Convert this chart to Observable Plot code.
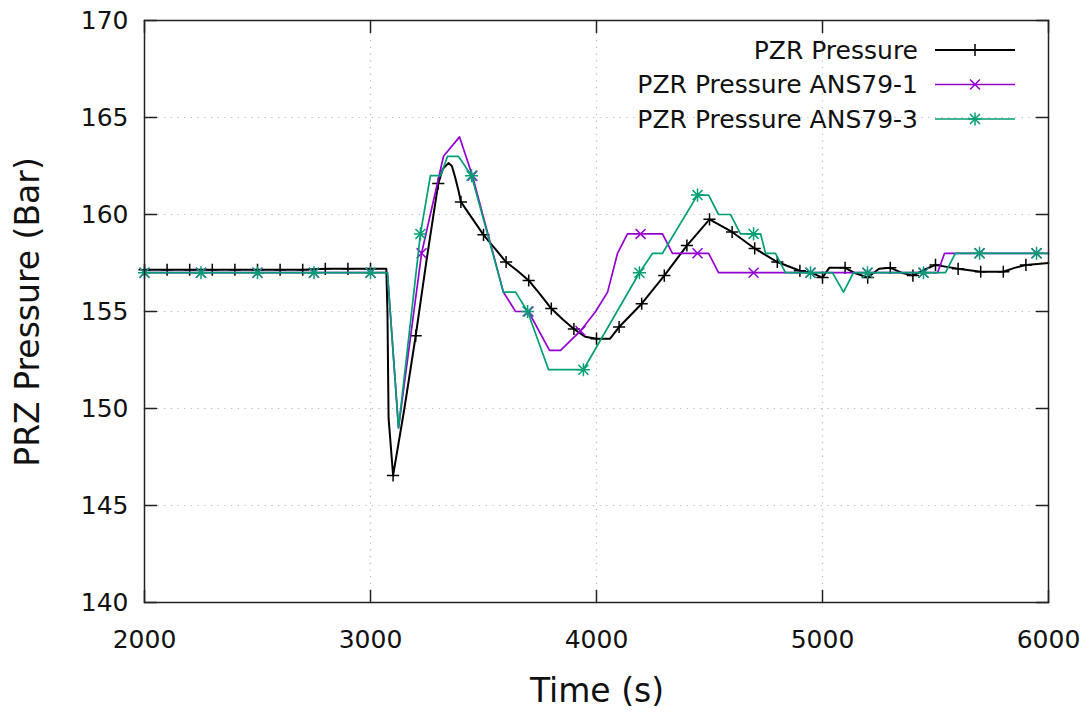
<!DOCTYPE html>
<html>
<head>
<meta charset="utf-8">
<script src="https://cdn.jsdelivr.net/npm/d3@7"></script>
<script src="https://cdn.jsdelivr.net/npm/@observablehq/plot@0.6"></script>
<style>
  html, body { margin: 0; padding: 0; background: #fff; }
  #chart { width: 1092px; height: 715px; }
</style>
</head>
<body>
<div id="chart"></div>
<script>
// ---- Data ----
const seriesNames = ["PZR Pressure", "PZR Pressure ANS79-1", "PZR Pressure ANS79-3"];

// PZR Pressure (black)
const pzrTime = [2000,2100,2200,2300,2400,2500,2600,2700,2800,2900,3000,3070,3075,3080,3100,3150,3200,3250,3300,3320,3345,3360,3375,3390,3400,3450,3500,3550,3600,3650,3700,3750,3800,3850,3900,3950,4000,4060,4100,4200,4300,4400,4500,4600,4700,4800,4900,4950,5000,5030,5100,5140,5200,5250,5300,5350,5400,5450,5500,5550,5600,5700,5800,5850,5900,6000];
const pzrValue = [157.15,157.15,157.15,157.15,157.15,157.15,157.15,157.15,157.2,157.2,157.2,157.2,155.0,149.5,146.55,150.0,153.75,157.8,161.6,162.35,162.65,162.5,161.9,161.2,160.65,159.8,158.95,158.25,157.55,157.1,156.6,155.9,155.15,154.6,154.1,153.7,153.6,153.6,154.2,155.4,156.85,158.4,159.75,159.1,158.25,157.55,157.1,157.0,156.75,157.25,157.25,157.0,156.75,157.2,157.25,157.0,156.85,157.15,157.4,157.3,157.2,157.05,157.05,157.25,157.4,157.5];
const pzrMarkerTimes = [2000,2100,2200,2300,2400,2500,2600,2700,2800,2900,3000,3100,3200,3300,3400,3500,3600,3700,3800,3900,4000,4100,4200,4300,4400,4500,4600,4700,4800,4900,5000,5100,5200,5300,5400,5500,5600,5700,5800,5900];

// PZR Pressure ANS79-1 (purple)
const ans1Time = [2000,2250,2500,2750,3000,3075,3124,3226,3323,3394,3451,3588,3642,3699,3792,3841,3929,3996,4049,4093,4137,4195,4292,4336,4447,4496,4540,4695,4947,5199,5447,5509,5540,5695,5947,6000];
const ans1Value = [157,157,157,157,157,157,149,158,163,164,162,156,155,155,153,153,154,155,156,158,159,159,159,158,158,158,157,157,157,157,157,157,158,158,158,158];
const ans1MarkerTimes = [2000,2250,2500,2750,3000,3226,3451,3699,3929,4195,4447,4695,4947,5199,5447,5695,5947];

// PZR Pressure ANS79-3 (green)
const ans3Time = [2000,2250,2500,2750,3000,3075,3124,3221,3265,3310,3341,3389,3447,3588,3642,3695,3788,3942,4190,4248,4292,4447,4496,4540,4593,4637,4695,4726,4748,4792,4836,4947,5044,5093,5137,5199,5447,5544,5588,5695,5947,6000];
const ans3Value = [157,157,157,157,157,157,149,159,162,162,163,163,162,156,156,155,152,152,157,158,158,161,161,160,160,159,159,159,158,158,157,157,157,156,157,157,157,157,158,158,158,158];
const ans3MarkerTimes = [2000,2250,2500,2750,3000,3221,3447,3695,3942,4190,4447,4695,4947,5199,5447,5695,5947];

// Axis ticks
const xTicks = [2000, 3000, 4000, 5000, 6000];
const yTicks = [140, 145, 150, 155, 160, 165, 170];
const xGrid = [3000, 4000, 5000];
const yGrid = [145, 150, 155, 160, 165];
const xLabel = "Time (s)";
const yLabel = "PRZ Pressure (Bar)";

// ---- Build tables ----
const toRows = (ts, vs) => ts.map((t, i) => ({t, v: vs[i]}));
const pzr = toRows(pzrTime, pzrValue);
const ans1 = toRows(ans1Time, ans1Value);
const ans3 = toRows(ans3Time, ans3Value);
const pick = (rows, times) => rows.filter(d => times.includes(d.t));
const pzrM = pick(pzr, pzrMarkerTimes);
const ans1M = pick(ans1, ans1MarkerTimes);
const ans3M = pick(ans3, ans3MarkerTimes);

const colors = ["#000000", "#9400d3", "#009e73"];
const FONT = "DejaVu Sans";

const tickShape = { draw(context, l) { context.moveTo(0, 0); context.lineTo(0, -l); } };
const tickLen = 12;

const chart = Plot.plot({
  width: 1092,
  height: 715,
  marginLeft: 144,
  marginRight: 44,
  marginTop: 20,
  marginBottom: 113,
  style: { fontFamily: FONT, fontSize: "25px", background: "#fff", color: "#111", overflow: "visible" },
  x: { domain: [2000, 6000] },
  y: { domain: [140, 170] },
  marks: [
    Plot.gridX(xGrid, { stroke: "#b8b8b8", strokeOpacity: 1, strokeWidth: 1.2, strokeDasharray: "1.2,5.5" }),
    Plot.gridY(yGrid, { stroke: "#b8b8b8", strokeOpacity: 1, strokeWidth: 1.2, strokeDasharray: "1.2,5.5" }),
    // inward ticks on all four sides
    Plot.vector(xTicks, { x: d => d, frameAnchor: "bottom", anchor: "start", length: tickLen, rotate: 0, shape: tickShape, stroke: "#222", strokeWidth: 1.5 }),
    Plot.vector(xTicks, { x: d => d, frameAnchor: "top", anchor: "start", length: tickLen, rotate: 180, shape: tickShape, stroke: "#222", strokeWidth: 1.5 }),
    Plot.vector(yTicks, { y: d => d, frameAnchor: "left", anchor: "start", length: tickLen, rotate: 90, shape: tickShape, stroke: "#222", strokeWidth: 1.5 }),
    Plot.vector(yTicks, { y: d => d, frameAnchor: "right", anchor: "start", length: tickLen, rotate: -90, shape: tickShape, stroke: "#222", strokeWidth: 1.5 }),
    Plot.axisX({ ticks: xTicks, tickSize: 0, tickPadding: 28, fontSize: 25, tickFormat: d => String(d), label: null }),
    Plot.axisY({ ticks: yTicks, tickSize: 0, tickPadding: 16, fontSize: 25, tickFormat: d => String(d), label: null }),
    // series
    Plot.line(pzr, { x: "t", y: "v", stroke: colors[0], strokeWidth: 2 }),
    Plot.dot(pzrM, { x: "t", y: "v", symbol: "plus", r: 4, stroke: colors[0], strokeWidth: 1.5 }),
    Plot.line(ans1, { x: "t", y: "v", stroke: colors[1], strokeWidth: 1.7 }),
    Plot.dot(ans1M, { x: "t", y: "v", symbol: "times", r: 4.6, stroke: colors[1], strokeWidth: 1.5 }),
    Plot.line(ans3, { x: "t", y: "v", stroke: colors[2], strokeWidth: 1.7 }),
    Plot.dot(ans3M, { x: "t", y: "v", symbol: "plus", r: 4.3, stroke: colors[2], strokeWidth: 1.5 }),
    Plot.dot(ans3M, { x: "t", y: "v", symbol: "times", r: 4.6, stroke: colors[2], strokeWidth: 1.5 }),
    Plot.frame({ stroke: "#222", strokeWidth: 1.5 })
  ]
});

const svg = d3.select(chart);

// Axis titles
svg.append("text")
  .attr("x", 597).attr("y", 702)
  .attr("text-anchor", "middle")
  .attr("font-family", FONT).attr("font-size", 33).attr("fill", "#111")
  .text(xLabel);
svg.append("text")
  .attr("transform", "translate(39,312) rotate(-90)")
  .attr("text-anchor", "middle")
  .attr("font-family", FONT).attr("font-size", 33).attr("fill", "#111")
  .text(yLabel);

// Legend (top right, inside the frame)
const legendSymbols = [["plus"], ["times"], ["plus", "times"]];
const symMap = { plus: [d3.symbolPlus, 4, 4.3], times: [d3.symbolTimes, 4.6, 4.6] };
const lg = svg.append("g").attr("font-family", FONT).attr("font-size", 25);
seriesNames.forEach((name, i) => {
  const yy = 50 + i * 34.5;
  lg.append("text").attr("x", 918).attr("y", yy).attr("dy", "0.35em")
    .attr("text-anchor", "end").attr("fill", "#111").text(name);
  lg.append("line").attr("x1", 935).attr("x2", 1015).attr("y1", yy).attr("y2", yy)
    .attr("stroke", colors[i]).attr("stroke-width", i === 0 ? 2 : 1.7);
  legendSymbols[i].forEach(s => {
    const [sym, r0, r2] = symMap[s];
    const r = i === 2 ? r2 : r0;
    lg.append("path").attr("transform", `translate(975,${yy})`)
      .attr("d", d3.symbol(sym, Math.PI * r * r)())
      .attr("fill", "none").attr("stroke", colors[i]).attr("stroke-width", 1.5);
  });
});

document.getElementById("chart").appendChild(chart);
</script>
</body>
</html>
